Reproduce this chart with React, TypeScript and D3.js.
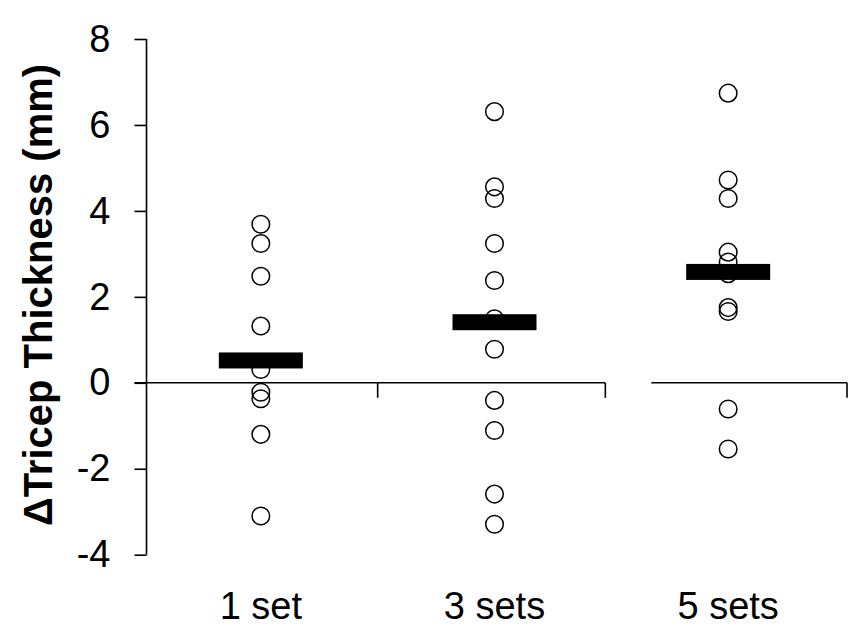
import * as d3 from "d3";
import { useEffect, useRef } from "react";

const categories = ["1 set", "3 sets", "5 sets"];
const oneSet = [3.69, 3.24, 2.48, 1.32, 0.31, -0.22, -0.37, -1.2, -3.1];
const threeSets = [6.31, 4.56, 4.29, 3.24, 2.38, 1.49, 0.78, -0.41, -1.11, -2.59, -3.29];
const fiveSets = [6.74, 4.72, 4.29, 3.04, 2.81, 2.54, 1.75, 1.66, -0.61, -1.54];
const means = [0.52, 1.41, 2.58];
const yTicks = [-4, -2, 0, 2, 4, 6, 8];

function App({ width = 862, height = 638 }) {
    const svgRef = useRef(null);

    useEffect(() => {
        const groups = [oneSet, threeSets, fiveSets];
        const svg = d3.select(svgRef.current).attr("width", width).attr("height", height);
        svg.selectAll("*").remove();

        const x = d3.scaleBand(categories, [144, 845]);
        const y = d3.scaleLinear([-4, 8], [554.7, 39]);
        const axisX = 146.5;
        const font = "'Liberation Sans', Arial, sans-serif";

        // y axis
        const yAxis = svg.append("g").attr("transform", `translate(${axisX},0)`)
            .call(d3.axisLeft(y).tickValues(yTicks).tickSize(12).tickPadding(24).tickFormat(d3.format("d")));
        yAxis.select(".domain").attr("stroke-width", 1.6).attr("d", `M0,${y(8)}V${y(-4)}`);
        yAxis.selectAll(".tick line").attr("stroke-width", 1.6);
        yAxis.selectAll(".tick text")
            .style("font-family", font).style("font-size", "38px").attr("fill", "#000")
            .text((d) => String(d).replace("−", "-"));

        // x axis at zero, broken before the last group
        const y0 = y(0);
        const b1 = x("3 sets");
        const b2 = x("5 sets") - 6;
        const end = x.range()[1] + 2;
        const gap = 46;
        svg.append("path")
            .attr("d", `M${axisX - 12},${y0}H${b2}M${b2 + gap},${y0}H${end}`)
            .attr("stroke", "#000").attr("stroke-width", 1.6).attr("fill", "none");
        svg.selectAll(".xtick").data([b1, b2, end]).enter().append("line")
            .attr("class", "xtick")
            .attr("x1", (d) => d).attr("x2", (d) => d)
            .attr("y1", y0).attr("y2", y0 + 15)
            .attr("stroke", "#000").attr("stroke-width", 1.6);

        // points
        groups.forEach((vals, gi) => {
            const cx = x(categories[gi]) + x.bandwidth() / 2;
            svg.append("g").selectAll("circle").data(vals).enter().append("circle")
                .attr("cx", cx).attr("cy", (d) => y(d)).attr("r", 8.8)
                .attr("fill", "none").attr("stroke", "#000").attr("stroke-width", 1.5);
        });

        // mean bars
        svg.append("g").selectAll("rect").data(means).enter().append("rect")
            .attr("x", (d, i) => x(categories[i]) + x.bandwidth() / 2 - 42)
            .attr("y", (d) => y(d) - 8)
            .attr("width", 84).attr("height", 16)
            .attr("fill", "#000");

        // category labels
        svg.append("g").selectAll("text").data(categories).enter().append("text")
            .attr("x", (d) => x(d) + x.bandwidth() / 2)
            .attr("y", 619)
            .attr("text-anchor", "middle")
            .style("font-family", font).style("font-size", "38px")
            .text((d) => d);

        // y title
        svg.append("text")
            .attr("transform", `translate(52,${295}) rotate(-90)`)
            .attr("text-anchor", "middle")
            .style("font-family", font).style("font-size", "40px").style("font-weight", "bold")
            .text("\u0394Tricep Thickness (mm)");
    }, []);

    return <svg ref={svgRef} style={{ position: "absolute", left: 0, top: 0, background: "#fff" }} />;
}

export default App;
